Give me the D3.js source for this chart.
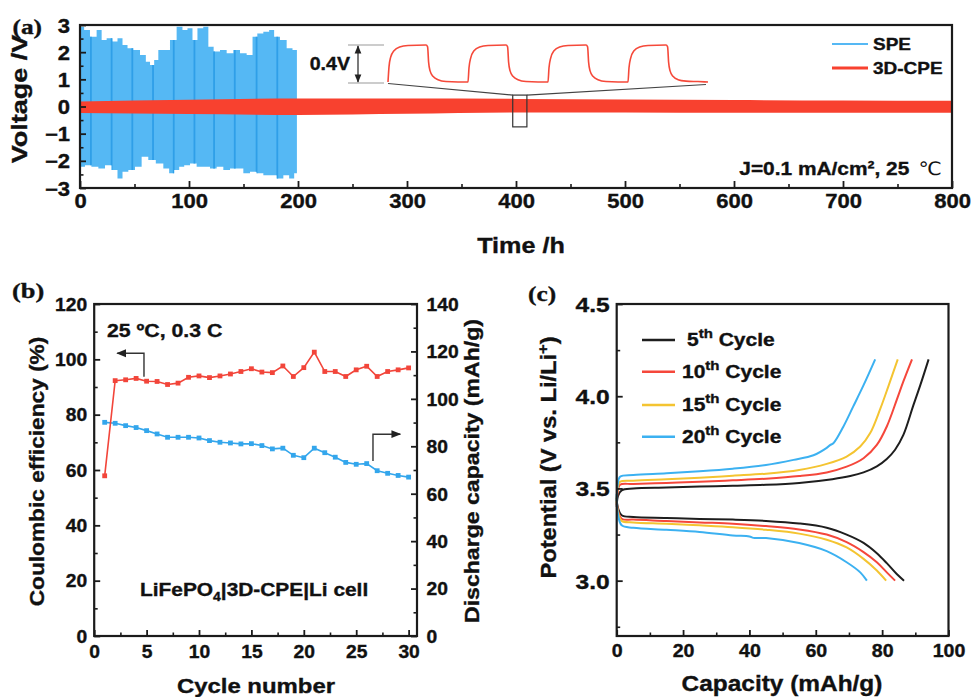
<!DOCTYPE html>
<html>
<head>
<meta charset="utf-8">
<script src="https://cdn.jsdelivr.net/npm/d3@7"></script>
<style>
  html, body { margin: 0; padding: 0; background: #fff; }
  svg text { font-family: Arial, "Liberation Sans", sans-serif; font-weight: bold; fill: #111;
             stroke: #111; stroke-width: 0.35px; paint-order: stroke; }
</style>
</head>
<body>
<svg id="fig" width="972" height="697"></svg>
<script>
// ---------------- Panel (a): symmetric Li cycling ----------------
// SPE voltage envelope (time h, voltage V)
const speUpper = [[0,2.85],[1.5,2.94],[6.1,2.82],[12.2,2.57],[18.3,2.82],[21.4,2.45],[27.5,2.51],[32.1,2.39],[36.7,2.51],[41.3,2.26],
  [45.9,2.14],[52,2.08],[58.1,1.9],[62.7,1.65],[65.8,1.53],[70.3,1.71],[73.4,2.08],[79.5,2.08],[85.6,2.45],[91.7,2.94],
  [96.3,2.82],[100.9,2.88],[105.5,2.45],[110,2.88],[116.2,2.94],[119.3,2.2],[125.4,2.02],[131.5,2.08],[137.6,1.96],[143.8,2.08],
  [149.8,1.96],[156,1.9],[160.6,2.57],[165.1,2.69],[171.3,2.75],[175.8,2.82],[180.4,2.57],[186.5,2.45],[192.7,2.14],[197.2,2.08],[199,2.08]];
const speLower = [[0,-2.2],[1.5,-2.22],[7.6,-2.16],[13.8,-2.22],[19.9,-2.28],[26,-2.16],[32.1,-2.34],[36.7,-2.65],[41.3,-2.4],[47.4,-2.34],
  [53.5,-2.22],[59.6,-1.85],[65.7,-1.97],[73.4,-2.1],[79.5,-2.28],[84.1,-2.46],[88.7,-2.34],[93.3,-2.22],[97.9,-2.16],[104,-2.1],
  [110,-2.22],[116.2,-2.22],[122.3,-2.28],[128.4,-2.22],[134.6,-2.34],[140.7,-2.28],[146.8,-2.28],[152.9,-2.46],[159,-2.4],[165.1,-2.46],
  [171.3,-2.53],[177.4,-2.53],[183.5,-2.65],[189.6,-2.53],[194.2,-2.65],[198.8,-2.46],[199,-2.46]];
// darker cycle stripes inside the SPE band (h)
const speStripes = [10, 29, 48, 67, 86, 105, 123, 142, 162, 181];
// 3D-CPE voltage band (time h, upper V, lower V)
const cpeTime  = [0, 100, 200, 300, 400, 500, 600, 700, 800];
const cpeUpper = [0.18, 0.25, 0.29, 0.29, 0.28, 0.26, 0.24, 0.22, 0.21];
const cpeLower = [-0.24, -0.28, -0.31, -0.27, -0.22, -0.22, -0.23, -0.23, -0.23];
// magnified 3D-CPE profile around 400 h (relative time h, voltage V)
const insetTrace = [
  [0,-0.19],[0.05,-0.03],[0.13,0.07],[0.3,0.14],[0.58,0.18],[1.0,0.195],[1.9,0.2],[1.98,0.18],[2.03,0.02],[2.1,-0.07],[2.25,-0.13],[2.5,-0.165],[2.9,-0.185],[3.5,-0.19],
  [4.0,-0.19],[4.05,-0.04],[4.13,0.06],[4.3,0.14],[4.58,0.18],[5.0,0.195],[5.9,0.2],[5.98,0.18],[6.03,0.02],[6.1,-0.07],[6.25,-0.13],[6.5,-0.165],[6.9,-0.185],[7.5,-0.19],
  [8.0,-0.19],[8.05,-0.04],[8.13,0.06],[8.3,0.14],[8.58,0.18],[9.0,0.195],[9.9,0.2],[9.98,0.18],[10.03,0.02],[10.1,-0.07],[10.25,-0.13],[10.5,-0.165],[10.9,-0.185],[11.5,-0.19],
  [12.0,-0.19],[12.05,-0.04],[12.13,0.06],[12.3,0.14],[12.58,0.18],[13.0,0.195],[13.9,0.2],[13.98,0.18],[14.03,0.02],[14.1,-0.07],[14.25,-0.13],[14.5,-0.165],[14.9,-0.18],[15.5,-0.185],[16.0,-0.19]];
const insetWindow = { t0: 397, t1: 410, v0: -0.75, v1: 0.42 };
const timeTicks = d3.range(0, 801, 100);
const timeMinor = d3.range(50, 800, 100);
const voltTicks = d3.range(-3, 4, 1);
const voltMinor = d3.range(-2.5, 3, 1);

// ---------------- Panel (b): cycling of LiFePO4|3D-CPE|Li ----------------
const cycles = d3.range(1, 31);
const coulombicEff = [57.9, 92.3, 92.6, 93.1, 92.1, 92.0, 90.9, 91.4, 93.5, 94.0, 93.4, 94.0, 94.7, 95.6, 96.6,
  95.4, 95.2, 97.6, 93.8, 97.0, 102.6, 95.6, 95.6, 93.8, 96.2, 97.5, 93.8, 95.6, 96.2, 96.9];
const dischargeCap = [90.1, 89.7, 88.7, 87.9, 86.6, 85.2, 83.8, 83.8, 83.8, 83.5, 82.4, 81.7, 81.4, 81.0, 81.1,
  80.3, 78.9, 79.2, 76.2, 75.2, 79.2, 77.3, 75.4, 73.2, 72.4, 72.7, 69.7, 68.6, 67.7, 67.0];
const cycleTicks = d3.range(0, 31, 5);
const cycleMinor = d3.range(2.5, 30, 5);
const ceTicks = d3.range(0, 121, 20);
const ceMinor = d3.range(10, 120, 20);
const capTicks = d3.range(0, 141, 20);
const capMinor = d3.range(10, 140, 20);

// ---------------- Panel (c): charge/discharge profiles ----------------
const profileNames = ["5", "10", "15", "20"];
const profileColors = ["#1e1e1e", "#f5473b", "#f4c431", "#3cb1f1"];
const chargeCap = [
  [0, 0.4, 1.5, 5, 15, 25, 35, 45, 55, 65, 70.4, 74.4, 78.4, 81.4, 83.9, 86.4, 89.4, 91.5, 94],
  [0, 0.3, 1.0, 5, 15, 25, 35, 45, 55, 63.3, 69.3, 74.4, 78.4, 81.4, 84.4, 86.4, 89],
  [0, 0.3, 1.0, 5, 15, 25, 35, 45, 55, 63.3, 69.3, 73.4, 76.4, 79.4, 81.9, 84.7],
  [0, 0.3, 1.0, 5, 15, 25, 35, 45, 53.3, 59.3, 63.3, 64.3, 65.3, 68.3, 71.3, 74.4, 77.9]];
const chargeV = [
  [3.40, 3.46, 3.49, 3.50, 3.505, 3.51, 3.515, 3.52, 3.53, 3.55, 3.567, 3.587, 3.62, 3.66, 3.71, 3.79, 3.95, 4.06, 4.20],
  [3.41, 3.48, 3.52, 3.524, 3.53, 3.536, 3.544, 3.553, 3.567, 3.587, 3.618, 3.664, 3.736, 3.836, 3.98, 4.08, 4.20],
  [3.42, 3.50, 3.536, 3.542, 3.55, 3.558, 3.569, 3.58, 3.60, 3.633, 3.673, 3.727, 3.80, 3.93, 4.055, 4.20],
  [3.43, 3.52, 3.564, 3.573, 3.582, 3.593, 3.607, 3.627, 3.655, 3.68, 3.72, 3.735, 3.745, 3.835, 3.945, 4.06, 4.20]];
const dischargeCapC = [
  [0, 0.3, 1.5, 5, 15, 25, 35, 45, 55, 63.3, 69.3, 74.4, 78.4, 81.4, 84.4, 86.6],
  [0, 0.3, 1.5, 5, 15, 25, 35, 45, 55, 63.3, 69.3, 74.4, 78.4, 81.4, 83.9],
  [0, 0.3, 1.5, 5, 15, 25, 35, 45, 55, 63.3, 69.3, 74.4, 78.4, 81.2],
  [0, 0.3, 1.5, 5, 15, 25, 35, 40, 41.2, 45, 55, 63.3, 69.3, 73.4, 75.4]];
const dischargeV = [
  [3.45, 3.40, 3.355, 3.345, 3.34, 3.335, 3.331, 3.324, 3.31, 3.287, 3.25, 3.205, 3.149, 3.095, 3.036, 3.0],
  [3.45, 3.39, 3.336, 3.331, 3.324, 3.316, 3.309, 3.296, 3.278, 3.25, 3.209, 3.155, 3.10, 3.045, 3.0],
  [3.46, 3.38, 3.324, 3.316, 3.309, 3.30, 3.29, 3.276, 3.255, 3.222, 3.18, 3.118, 3.055, 3.0],
  [3.47, 3.37, 3.30, 3.287, 3.276, 3.264, 3.245, 3.24, 3.232, 3.231, 3.204, 3.16, 3.10, 3.045, 3.0]];
const capCTicks = d3.range(0, 101, 20);
const capCMinor = d3.range(10, 100, 20);
const potTicks = [3.0, 3.5, 4.0, 4.5];
const potMinor = [2.75, 3.25, 3.75, 4.25];

// ================= drawing =================
const svg = d3.select("#fig");
const INK = "#1b1b1b";

// arrowhead marker
const defs = svg.append("defs");
defs.append("marker").attr("id", "arrowHead").attr("viewBox", "0 0 10 10")
  .attr("refX", 9).attr("refY", 5).attr("markerWidth", 7).attr("markerHeight", 7)
  .attr("orient", "auto-start-reverse")
  .append("path").attr("d", "M0,1 L10,5 L0,9 Z").attr("fill", "#222");

// text helper: horizontally stretched bold text, optional rotation and rich parts
function label(parent, x, y, parts, o = {}) {
  const g = parent.append("g")
    .attr("transform", `translate(${x},${y}) rotate(${o.rotate || 0}) scale(${o.sx || 1},1)`);
  const t = g.append("text").attr("text-anchor", o.anchor || "start")
    .style("font-size", (o.fs || 16) + "px");
  if (o.family) t.style("font-family", o.family);
  if (typeof parts === "string") parts = [{ t: parts }];
  parts.forEach(p => {
    const s = t.append("tspan").text(p.t);
    if (p.fs) s.style("font-size", p.fs + "px");
    if (p.dy) s.attr("dy", p.dy);
    if (p.dx) s.attr("dx", p.dx);
    if (p.weight) s.style("font-weight", p.weight).style("stroke-width", "0px");
    if (p.family) s.style("font-family", p.family);
  });
  return t;
}

// axis helper with inward major/minor ticks
function axis(parent, side, scale, pos, major, minor, o) {
  const fn = { bottom: d3.axisBottom, left: d3.axisLeft, right: d3.axisRight }[side];
  const tr = side === "bottom" ? `translate(0,${pos})` : `translate(${pos},0)`;
  if (minor) {
    const m = parent.append("g").attr("transform", tr)
      .call(fn(scale).tickValues(minor).tickSize(-o.minorLen).tickFormat(""));
    m.select(".domain").remove();
    m.selectAll("line").attr("stroke", INK).attr("stroke-width", 1.6);
  }
  const g = parent.append("g").attr("transform", tr)
    .call(fn(scale).tickValues(major).tickSize(-o.majorLen).tickSizeOuter(0).tickFormat(o.format || d3.format("d")));
  g.select(".domain").remove();
  g.selectAll("line").attr("stroke", INK).attr("stroke-width", 1.8);
  const txt = g.selectAll("text")
    .style("font-size", o.fs + "px").style("font-family", 'Arial, "Liberation Sans", sans-serif')
    .style("font-weight", "bold").attr("fill", "#111")
    .attr("transform", `scale(${o.sx},1)`);
  if (side === "bottom") txt.attr("y", o.gap).attr("dy", 0);
  if (side === "left") txt.attr("x", -o.gap / o.sx).attr("dy", "0.36em");
  if (side === "right") txt.attr("x", o.gap / o.sx).attr("dy", "0.36em");
  return g;
}

function frame(parent, x, y) {
  parent.append("rect")
    .attr("x", x.range()[0]).attr("y", y.range()[1])
    .attr("width", x.range()[1] - x.range()[0]).attr("height", y.range()[0] - y.range()[1])
    .attr("fill", "none").attr("stroke", INK).attr("stroke-width", 2.2);
}

// ---------- (a) ----------
const xA = d3.scaleLinear([0, 800], [80, 952]);
const yA = d3.scaleLinear([-3, 3], [188, 25]);
const gA = svg.append("g");

// SPE band polygon (stepped envelope)
const stepLine = d3.line().x(d => xA(d[0])).y(d => yA(d[1])).curve(d3.curveStep);
const upPath = stepLine(speUpper);
const loPath = stepLine(speLower.slice().reverse());
const bandD = upPath + "L" + loPath.slice(1) + "Z";
defs.append("clipPath").attr("id", "speClip").append("path").attr("d", bandD);
gA.append("path").attr("d", bandD).attr("fill", "#55b8f4");
gA.append("g").attr("clip-path", "url(#speClip)")
  .selectAll("line").data(speStripes).join("line")
  .attr("x1", d => xA(d)).attr("x2", d => xA(d))
  .attr("y1", yA(3)).attr("y2", yA(-3))
  .attr("stroke", "#2f9fe8").attr("stroke-width", 1.8);

// 3D-CPE band
gA.append("path")
  .datum(cpeTime.map((t, i) => [t, cpeUpper[i], cpeLower[i]]))
  .attr("d", d3.area().x(d => xA(d[0])).y0(d => yA(d[2])).y1(d => yA(d[1])).curve(d3.curveMonotoneX))
  .attr("fill", "#f8412f");

// zoom window on the CPE trace
gA.append("rect")
  .attr("x", xA(insetWindow.t0)).attr("y", yA(insetWindow.v1))
  .attr("width", xA(insetWindow.t1) - xA(insetWindow.t0))
  .attr("height", yA(insetWindow.v0) - yA(insetWindow.v1))
  .attr("fill", "none").attr("stroke", "#333").attr("stroke-width", 1.2);

// magnified waveform
const xIn = d3.scaleLinear([0, 16], [388, 708]);
const yIn = d3.scaleLinear([-0.2, 0.2], [83, 45]);
gA.append("line").attr("x1", xIn(0)).attr("y1", yIn(-0.2) + 0.5)
  .attr("x2", xA(insetWindow.t0)).attr("y2", yA(insetWindow.v1))
  .attr("stroke", "#444").attr("stroke-width", 1.2);
gA.append("line").attr("x1", xIn(15.9)).attr("y1", yIn(-0.2) + 1.5)
  .attr("x2", xA(insetWindow.t1)).attr("y2", yA(insetWindow.v1))
  .attr("stroke", "#444").attr("stroke-width", 1.2);
gA.append("path").datum(insetTrace)
  .attr("d", d3.line().x(d => xIn(d[0])).y(d => yIn(d[1])).curve(d3.curveMonotoneX))
  .attr("fill", "none").attr("stroke", "#f5493a").attr("stroke-width", 1.6);

// 0.4 V amplitude marker
[0.2, -0.2].forEach(v => gA.append("line")
  .attr("x1", 348).attr("x2", 384).attr("y1", yIn(v)).attr("y2", yIn(v))
  .attr("stroke", "#999").attr("stroke-width", 1));
gA.append("line").attr("x1", 358).attr("x2", 358)
  .attr("y1", yIn(0.2) + 1).attr("y2", yIn(-0.2) - 1)
  .attr("stroke", "#222").attr("stroke-width", 1.2)
  .attr("marker-start", "url(#arrowHead)").attr("marker-end", "url(#arrowHead)");
label(gA, 350, 70, "0.4V", { fs: 17.5, sx: 1.12, anchor: "end" });

// axes + frame
axis(gA, "bottom", xA, 188, timeTicks, timeMinor, { majorLen: 7, minorLen: 4, fs: 19.5, sx: 1.13, gap: 20.5 });
axis(gA, "left", yA, 80, voltTicks, voltMinor, { majorLen: 6, minorLen: 3.5, fs: 19.5, sx: 1.13, gap: 10 });
frame(gA, xA, yA);

// legend
[["SPE", "#55b8f4", 44, 2.2], ["3D-CPE", "#f8412f", 68, 3.2]].forEach(([name, col, y, w]) => {
  gA.append("line").attr("x1", 832).attr("x2", 868).attr("y1", y).attr("y2", y)
    .attr("stroke", col).attr("stroke-width", w);
  label(gA, 873, y + 6, name, { fs: 16.5, sx: 1.15 });
});
label(gA, 942, 175, [{ t: "J=0.1 mA/cm" }, { t: "²" }, { t: ", 25 " }, { t: "℃", weight: "normal", family: '"DejaVu Sans", sans-serif', dx: 3 }],
  { fs: 18.5, sx: 1.13, anchor: "end" });

label(gA, 27, 99, "Voltage /V", { fs: 22.5, sx: 1.2, rotate: -90, anchor: "middle" });
label(gA, 521, 253, "Time /h", { fs: 22.5, sx: 1.12, anchor: "middle" });
label(svg, 12.5, 34, "(a)", { fs: 22, sx: 1.15, family: '"Liberation Serif", "Times New Roman", serif' });

// ---------- (b) ----------
const xB = d3.scaleLinear([0, 30.8], [94.2, 417]);
const yBL = d3.scaleLinear([0, 120], [636, 304]);
const yBR = d3.scaleLinear([0, 140], [636, 304]);
const gB = svg.append("g");

function series(parent, xs, ys, sx, sy, col) {
  parent.append("path").datum(xs.map((x, i) => [x, ys[i]]))
    .attr("d", d3.line().x(d => sx(d[0])).y(d => sy(d[1])))
    .attr("fill", "none").attr("stroke", col).attr("stroke-width", 1.6);
  parent.selectAll(null).data(xs.map((x, i) => [x, ys[i]])).join("rect")
    .attr("x", d => sx(d[0]) - 2.4).attr("y", d => sy(d[1]) - 2.4)
    .attr("width", 4.8).attr("height", 4.8).attr("fill", col);
}
series(gB, cycles, dischargeCap, xB, yBR, "#33a6ec");
series(gB, cycles, coulombicEff, xB, yBL, "#f2453a");

axis(gB, "bottom", xB, 636, cycleTicks, cycleMinor, { majorLen: 6, minorLen: 3.5, fs: 17.5, sx: 1.1, gap: 22 });
axis(gB, "left", yBL, 94.2, ceTicks, ceMinor, { majorLen: 6, minorLen: 3.5, fs: 17.5, sx: 1.1, gap: 7 });
axis(gB, "right", yBR, 417, capTicks, capMinor, { majorLen: 6, minorLen: 3.5, fs: 17.5, sx: 1.1, gap: 9.5 });
frame(gB, xB, yBL);

// axis-pointer arrows
gB.append("path")
  .attr("d", `M${xB(4.75)},${yBL(93.7)} V${yBL(102.2)} H${xB(2.2)}`)
  .attr("fill", "none").attr("stroke", "#333").attr("stroke-width", 1.4).attr("marker-end", "url(#arrowHead)");
gB.append("path")
  .attr("d", `M${xB(26.6)},${yBR(73.8)} V${yBR(85.1)} H${xB(29.2)}`)
  .attr("fill", "none").attr("stroke", "#333").attr("stroke-width", 1.4).attr("marker-end", "url(#arrowHead)");

label(gB, 107, 337, "25 ºC, 0.3 C", { fs: 18.5, sx: 1.15 });
label(gB, 140, 596, [{ t: "LiFePO" }, { t: "4", fs: 12, dy: 5 }, { t: "|3D-CPE|Li cell", dy: -5 }], { fs: 18, sx: 1.16 });
label(gB, 44, 471.5, "Coulombic efficiency (%)", { fs: 21, sx: 1.08, rotate: -90, anchor: "middle" });
label(gB, 479, 471, "Discharge capacity (mAh/g)", { fs: 21, sx: 1.1, rotate: -90, anchor: "middle" });
label(gB, 256, 692.5, "Cycle number", { fs: 21, sx: 1.14, anchor: "middle" });
label(svg, 12, 298, "(b)", { fs: 22, sx: 1.2, family: '"Liberation Serif", "Times New Roman", serif' });

// ---------- (c) ----------
const xC = d3.scaleLinear([0, 100], [616.7, 948.5]);
const yC = d3.scaleLinear([2.7, 4.5], [636, 304]);
const gC = svg.append("g");
const profLine = d3.line().x(d => xC(d[0])).y(d => yC(d[1])).curve(d3.curveCatmullRom.alpha(0.5));
profileNames.forEach((n, k) => {
  gC.append("path").datum(chargeCap[k].map((c, i) => [c, chargeV[k][i]]))
    .attr("d", profLine).attr("fill", "none").attr("stroke", profileColors[k]).attr("stroke-width", 2);
  gC.append("path").datum(dischargeCapC[k].map((c, i) => [c, dischargeV[k][i]]))
    .attr("d", profLine).attr("fill", "none").attr("stroke", profileColors[k]).attr("stroke-width", 2);
});

axis(gC, "bottom", xC, 636, capCTicks, capCMinor, { majorLen: 6, minorLen: 3.5, fs: 17.5, sx: 1.12, gap: 21 });
axis(gC, "left", yC, 616.7, potTicks, potMinor, { majorLen: 6, minorLen: 3.5, fs: 20.5, sx: 1.2, gap: 7, format: d3.format(".1f") });
frame(gC, xC, yC);

// legend
const legY = [340, 371.7, 405, 436.7];
const legX = [687, 682, 682, 682];
profileNames.forEach((n, k) => {
  gC.append("line").attr("x1", 642).attr("x2", 675).attr("y1", legY[k]).attr("y2", legY[k])
    .attr("stroke", profileColors[k]).attr("stroke-width", 2.6);
  label(gC, legX[k], legY[k] + 6, [{ t: n }, { t: "th", fs: 12.5, dy: -8 }, { t: " Cycle", dy: 8 }], { fs: 17.5, sx: 1.2 });
});

label(gC, 556, 457.5, [{ t: "Potential (V vs. Li/Li" }, { t: "+", fs: 15, dy: -8 }, { t: ")", dy: 8 }],
  { fs: 21.5, sx: 1.1, rotate: -90, anchor: "middle" });
label(gC, 782, 691, "Capacity (mAh/g)", { fs: 22, sx: 1.11, anchor: "middle" });
label(svg, 528, 301, "(c)", { fs: 22, sx: 1.15, family: '"Liberation Serif", "Times New Roman", serif' });
</script>
</body>
</html>
